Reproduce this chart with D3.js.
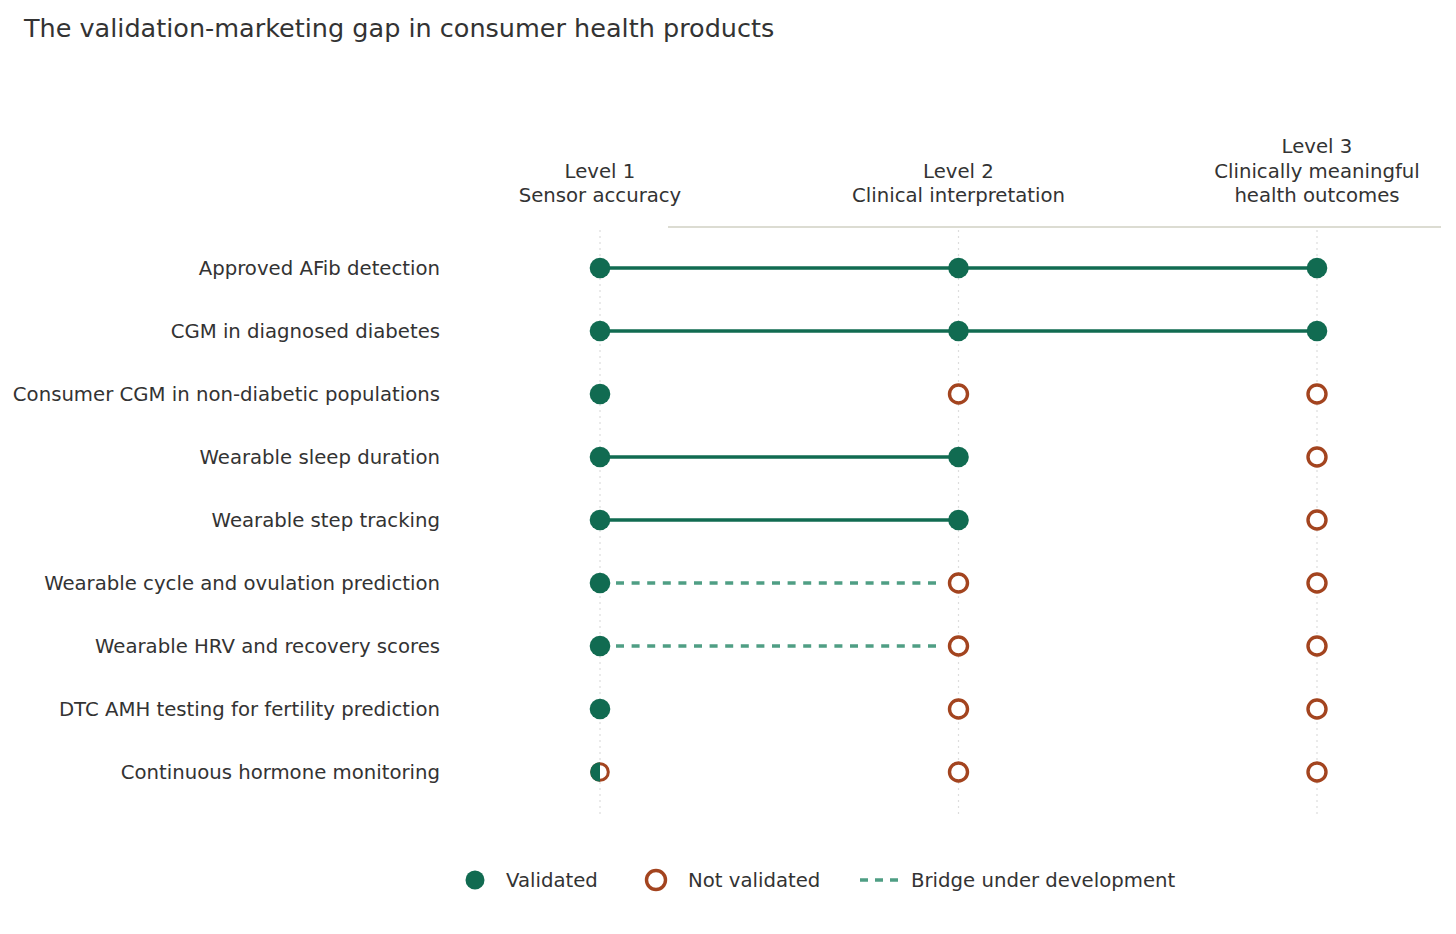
<!DOCTYPE html>
<html><head><meta charset="utf-8">
<script src="https://cdn.jsdelivr.net/npm/d3@7"></script>
<style>body{margin:0;background:#fff;} svg{display:block;font-family:"DejaVu Sans",sans-serif;}</style>
</head><body><svg id="c" width="1456" height="934"></svg>
<script>
const title = "The validation-marketing gap in consumer health products";
const levels = ["Level 1", "Level 2", "Level 3"];
const levelLabels = [["Level 1","Sensor accuracy"],["Level 2","Clinical interpretation"],["Level 3","Clinically meaningful","health outcomes"]];
const products = [
  "Approved AFib detection",
  "CGM in diagnosed diabetes",
  "Consumer CGM in non-diabetic populations",
  "Wearable sleep duration",
  "Wearable step tracking",
  "Wearable cycle and ovulation prediction",
  "Wearable HRV and recovery scores",
  "DTC AMH testing for fertility prediction",
  "Continuous hormone monitoring"
];
// status per level: "v" validated, "n" not validated, "h" partially
const level1Status = ["v","v","v","v","v","v","v","v","h"];
const level2Status = ["v","v","n","v","v","n","n","n","n"];
const level3Status = ["v","v","n","n","n","n","n","n","n"];
// links between levels: [row, fromLevel, toLevel, type]
const links = [
  [0,0,1,"solid"],[0,1,2,"solid"],
  [1,0,1,"solid"],[1,1,2,"solid"],
  [3,0,1,"solid"],[4,0,1,"solid"],
  [5,0,1,"dashed"],[6,0,1,"dashed"]
];
const legendItems = ["Validated","Not validated","Bridge under development"];

const GREEN = "#116b51", RUST = "#a3441f", DASH = "#4f9e84", TXT = "#333333";
const FS = 19.7;
const svg = d3.select("#c");
const x = d3.scalePoint().domain(levels).range([600, 1317]);
const y = d3.scalePoint().domain(products).range([268, 772]);

svg.append("text").attr("x", 24).attr("y", 37).attr("font-size", 25.5).attr("fill", TXT).text(title);

// header separator line
svg.append("line").attr("x1", 668).attr("x2", 1441).attr("y1", 227).attr("y2", 227)
  .attr("stroke", "#dcdcd2").attr("stroke-width", 2);

// vertical dotted guides
levels.forEach(l => {
  svg.append("line").attr("x1", x(l)).attr("x2", x(l)).attr("y1", 230).attr("y2", 815)
    .attr("stroke", "#dddddd").attr("stroke-width", 1.2).attr("stroke-dasharray", "2,4");
});

// level headers
levelLabels.forEach((lines, i) => {
  const n = lines.length;
  const t = svg.append("text").attr("text-anchor", "middle").attr("font-size", FS).attr("fill", TXT);
  lines.forEach((s, j) => {
    t.append("tspan").attr("x", x(levels[i])).attr("y", 202 - (n - 1 - j) * 24.5).text(s);
  });
});

// row labels
svg.selectAll("text.row").data(products).enter().append("text")
  .attr("class", "row").attr("x", 440).attr("y", d => y(d) + 7)
  .attr("text-anchor", "end").attr("font-size", FS).attr("fill", TXT).text(d => d);

// links
links.forEach(([r, a, b, type]) => {
  const yy = y(products[r]);
  const ln = svg.append("line").attr("y1", yy).attr("y2", yy);
  if (type === "solid") {
    ln.attr("x1", x(levels[a])).attr("x2", x(levels[b])).attr("stroke", GREEN).attr("stroke-width", 3.4);
  } else {
    ln.attr("x1", x(levels[a]) + 16).attr("x2", x(levels[b]) - 16).attr("stroke", DASH)
      .attr("stroke-width", 3.4).attr("stroke-dasharray", "8,7.6");
  }
});

// markers
const statuses = [level1Status, level2Status, level3Status];
statuses.forEach((arr, li) => {
  arr.forEach((s, r) => {
    const cx = x(levels[li]), cy = y(products[r]);
    if (s === "v") {
      svg.append("circle").attr("cx", cx).attr("cy", cy).attr("r", 10.3).attr("fill", GREEN);
    } else if (s === "n") {
      svg.append("circle").attr("cx", cx).attr("cy", cy).attr("r", 9).attr("fill", "#fff")
        .attr("stroke", RUST).attr("stroke-width", 3.4);
    } else {
      svg.append("circle").attr("cx", cx).attr("cy", cy).attr("r", 8.3).attr("fill", "#fff")
        .attr("stroke", RUST).attr("stroke-width", 3);
      const arc = d3.arc().innerRadius(0).outerRadius(9.8).startAngle(Math.PI).endAngle(2 * Math.PI);
      svg.append("path").attr("d", arc()).attr("transform", `translate(${cx},${cy})`).attr("fill", GREEN);
    }
  });
});

// legend
const ly = 880;
svg.append("circle").attr("cx", 475).attr("cy", ly).attr("r", 9.5).attr("fill", GREEN);
svg.append("text").attr("x", 506).attr("y", ly + 7).attr("font-size", FS).attr("fill", TXT).text(legendItems[0]);
svg.append("circle").attr("cx", 656).attr("cy", ly).attr("r", 9.5).attr("fill", "#fff").attr("stroke", RUST).attr("stroke-width", 3.4);
svg.append("text").attr("x", 688).attr("y", ly + 7).attr("font-size", FS).attr("fill", TXT).text(legendItems[1]);
svg.append("line").attr("x1", 860).attr("x2", 898).attr("y1", ly).attr("y2", ly)
  .attr("stroke", DASH).attr("stroke-width", 3.4).attr("stroke-dasharray", "8,7");
svg.append("text").attr("x", 911).attr("y", ly + 7).attr("font-size", FS).attr("fill", TXT).text(legendItems[2]);
</script></body></html>
